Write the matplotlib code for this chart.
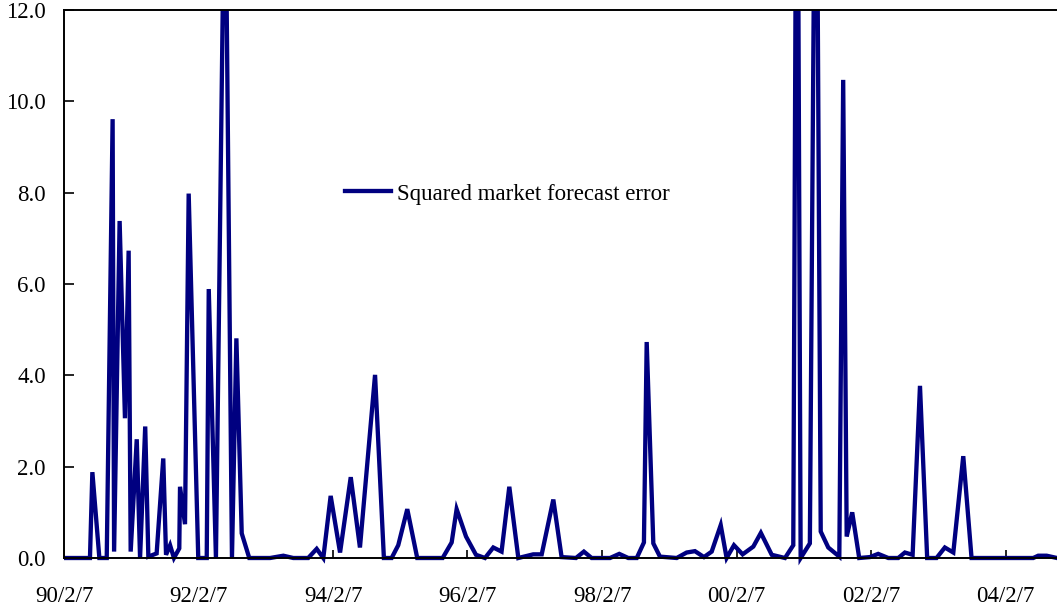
import numpy as np
import pandas as pd
import matplotlib
matplotlib.use('Agg')
import matplotlib.pyplot as plt
from matplotlib.patches import Rectangle

# dates and squared forecast errors
dates = [
    '1990-02-07', '1990-06-28', '1990-07-11', '1990-08-18', '1990-09-27', '1990-10-29',
    '1990-11-06', '1990-12-06', '1991-01-04', '1991-01-24', '1991-02-04', '1991-03-09',
    '1991-03-27', '1991-04-24', '1991-05-11', '1991-06-25', '1991-07-31', '1991-08-15',
    '1991-09-06', '1991-09-27', '1991-10-26', '1991-10-30', '1991-11-26', '1991-12-16',
    '1992-02-06', '1992-03-23', '1992-04-03', '1992-05-12', '1992-06-30', '1992-08-07',
    '1992-08-31', '1992-09-29', '1992-11-09', '1992-12-22', '1993-02-03', '1993-03-02',
    '1993-05-13', '1993-07-06', '1993-09-25', '1993-11-10', '1993-12-16', '1994-01-25',
    '1994-03-17', '1994-05-14', '1994-07-03', '1994-09-23', '1994-11-10', '1994-12-22',
    '1995-01-27', '1995-03-17', '1995-05-10', '1995-09-25', '1995-11-13', '1995-12-10',
    '1996-01-30', '1996-03-24', '1996-05-12', '1996-06-26', '1996-08-10', '1996-09-21',
    '1996-11-09', '1997-01-29', '1997-03-16', '1997-05-18', '1997-07-02', '1997-09-18',
    '1997-10-31', '1997-12-12', '1998-03-22', '1998-05-11', '1998-06-29', '1998-08-14',
    '1998-09-22', '1998-10-07', '1998-11-12', '1998-12-18', '1999-03-19', '1999-05-12',
    '1999-06-26', '1999-08-14', '1999-09-25', '1999-11-13', '1999-12-15', '2000-01-24',
    '2000-03-11', '2000-05-08', '2000-06-18', '2000-08-16', '2000-10-27', '2000-12-11',
    '2000-12-31', '2001-01-20', '2001-03-11', '2001-04-13', '2001-05-09', '2001-06-19',
    '2001-08-18', '2001-09-08', '2001-09-27', '2001-10-27', '2001-12-04', '2002-01-31',
    '2002-03-17', '2002-05-11', '2002-07-04', '2002-08-09', '2002-09-20', '2002-10-30',
    '2002-12-08', '2003-01-28', '2003-03-14', '2003-04-29', '2003-06-22', '2003-08-06',
    '2003-09-16', '2003-10-28', '2003-12-09', '2004-01-28', '2004-03-16', '2004-05-04',
    '2004-07-06', '2004-08-02', '2004-09-17', '2004-11-12',
]
sq_error = [
    0.0, 0.0, 1.88, 0.0, 0.0, 9.61,
    0.14, 7.38, 3.06, 6.73, 0.14, 2.60,
    0.0, 2.88, 0.03, 0.10, 2.18, 0.07,
    0.28, 0.0, 0.21, 1.56, 0.74, 7.98,
    0.0, 0.0, 5.89, 0.0, 16.0, 0.0,
    4.81, 0.54, 0.0, 0.0, 0.0, 0.0,
    0.05, 0.0, 0.0, 0.20, 0.0, 1.36,
    0.12, 1.77, 0.23, 4.01, 0.0, 0.0,
    0.28, 1.07, 0.0, 0.0, 0.34, 1.07,
    0.47, 0.07, 0.0, 0.23, 0.14, 1.56,
    0.0, 0.08, 0.08, 1.28, 0.02, 0.0,
    0.14, 0.0, 0.0, 0.09, 0.0, 0.0,
    0.34, 4.73, 0.32, 0.03, 0.0, 0.12,
    0.15, 0.02, 0.14, 0.72, 0.0, 0.28,
    0.08, 0.25, 0.55, 0.07, 0.0, 0.28,
    20.0, 0.0, 0.32, 19.0, 0.58, 0.23,
    0.03, 10.47, 0.47, 1.00, 0.0, 0.02,
    0.09, 0.0, 0.0, 0.12, 0.07, 3.77,
    0.0, 0.0, 0.23, 0.12, 2.23, 0.0,
    0.0, 0.0, 0.0, 0.0, 0.0, 0.0,
    0.0, 0.05, 0.05, 0.0,
]
tick_dates = ['1990-02-07', '1992-02-07', '1994-02-07', '1996-02-07',
              '1998-02-07', '2000-02-07', '2002-02-07', '2004-02-07']
legend_label = 'Squared market forecast error'

plt.rcParams['font.family'] = ['Liberation Serif', 'DejaVu Serif']

x = pd.to_datetime(dates)
fig = plt.figure(figsize=(10.57, 6.11), dpi=100)
ax = fig.add_axes([64 / 1057, 1 - 558 / 611, 1 - 64 / 1057, 548 / 611])

line, = ax.plot(x, sq_error, color='#000080', lw=3.1, label=legend_label,
                solid_joinstyle='miter')
# let the zero line sit fully on the bottom spine, but clip spikes at the top
clip = Rectangle((0, -0.02), 1, 1.02, transform=ax.transAxes, visible=False)
ax.add_patch(clip)
line.set_clip_path(clip)

ax.set_ylim(0, 12)
ax.set_yticks(np.arange(0, 12.1, 2))
ax.set_yticklabels([f'{v:.1f}' for v in np.arange(0, 12.1, 2)])
ax.set_xlim(pd.Timestamp('1990-02-07'), pd.Timestamp('2004-11-12'))
ticks = pd.to_datetime(tick_dates)
ax.set_xticks(ticks)
ax.set_xticklabels([f'{t.year % 100:02d}/{t.month}/{t.day}' for t in ticks])

for side in ['left', 'bottom', 'top']:
    ax.spines[side].set_linewidth(1.4)
ax.spines['right'].set_visible(False)
ax.tick_params(axis='y', direction='in', length=7, width=1.2, pad=13, labelsize=16.5)
ax.tick_params(axis='x', direction='in', length=6, width=1.2, pad=20, labelsize=16.5)

ax.legend(loc='center left', bbox_to_anchor=((345 - 64) / 993, (558 - 194) / 548),
          frameon=False, borderpad=0, borderaxespad=0, handlelength=2.0,
          handletextpad=0.25, fontsize=16.5)

fig.savefig('out.png', dpi=100)
